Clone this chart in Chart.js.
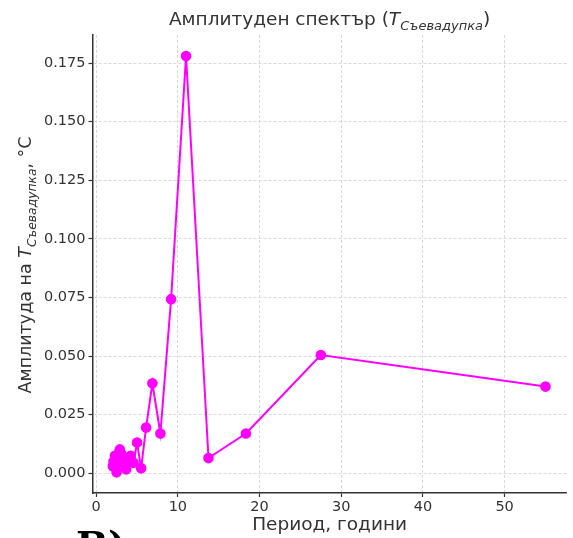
<!DOCTYPE html>
<html>
<head>
<meta charset="utf-8">
<script src="https://cdn.jsdelivr.net/npm/chart.js@4.4.1/dist/chart.umd.min.js"></script>
<style>
  html, body { margin: 0; padding: 0; background: #fff; }
  #wrap { width: 573px; height: 538px; }
</style>
</head>
<body>
<div id="wrap"><canvas id="spectrumChart" width="573" height="538"></canvas></div>
<script>
// period (years) = 55 / k, k = 1..27
const periods = [55, 27.5, 18.33, 13.75, 11, 9.17, 7.86, 6.88, 6.11, 5.5, 5.0, 4.58, 4.23, 3.93,
                 3.67, 3.44, 3.24, 3.06, 2.89, 2.75, 2.62, 2.5, 2.39, 2.29, 2.2, 2.12, 2.04];
const amplitudes = [0.037, 0.0505, 0.017, 0.0065, 0.178, 0.0743, 0.017, 0.0384, 0.0195, 0.0022,
                    0.0131, 0.0045, 0.0075, 0.0045, 0.0017, 0.0058, 0.0045, 0.0085, 0.0102, 0.0085,
                    0.0045, 0.0005, 0.0025, 0.0075, 0.0045, 0.005, 0.003];
const xTicks = [0, 10, 20, 30, 40, 50];
const yTicks = [0, 0.025, 0.05, 0.075, 0.1, 0.125, 0.15, 0.175];

const titleParts = [
    { text: "Амплитуден спектър (", style: "normal" },
    { text: "T", style: "italic" },
    { text: "Съевадупка", style: "sub" },
    { text: ")", style: "normal" }
];
const yLabelParts = [
    { text: "Амплитуда на ", style: "normal" },
    { text: "T", style: "italic" },
    { text: "Съевадупка", style: "sub" },
    { text: ", °C", style: "normal" }
];
const xLabel = "Период, години";
const panelLetter = "В)";

const textColor = "#333333";
const FONT = "'DejaVu Sans', sans-serif";

// draw a line of text with italic T and a smaller lowered subscript, centred at (0,0)
function drawRich(ctx, parts, size) {
    const fontFor = s => s === "normal" ? `${size}px ${FONT}`
        : s === "italic" ? `italic ${size}px ${FONT}`
        : `italic ${Math.round(size * 0.7 * 10) / 10}px ${FONT}`;
    let total = 0;
    parts.forEach(p => { ctx.font = fontFor(p.style); p.w = ctx.measureText(p.text).width; total += p.w; });
    let x = -total / 2;
    ctx.textBaseline = "alphabetic";
    ctx.textAlign = "left";
    parts.forEach(p => {
        ctx.font = fontFor(p.style);
        const dy = p.style === "sub" ? size * 0.25 : 0;
        ctx.fillText(p.text, x, size * 0.35 + dy);
        x += p.w;
    });
}

const labelsPlugin = {
    id: "labels",
    afterDraw(chart) {
        const ctx = chart.ctx;
        const area = chart.chartArea;
        ctx.save();
        ctx.fillStyle = textColor;

        // title
        ctx.save();
        ctx.translate((area.left + area.right) / 2, 19);
        drawRich(ctx, titleParts, 18.5);
        ctx.restore();

        // y axis label
        ctx.save();
        ctx.translate(25, (area.top + area.bottom) / 2 + 1);
        ctx.rotate(-Math.PI / 2);
        drawRich(ctx, yLabelParts, 17.5);
        ctx.restore();

        // x axis label
        ctx.font = `18.5px ${FONT}`;
        ctx.textAlign = "center";
        ctx.textBaseline = "middle";
        ctx.fillText(xLabel, (area.left + area.right) / 2, 525);

        // panel letter, cut off by the bottom edge
        ctx.fillStyle = "#000";
        ctx.font = "bold 38px 'DejaVu Serif', serif";
        ctx.textAlign = "left";
        ctx.textBaseline = "alphabetic";
        ctx.fillText(panelLetter, 76, 558);
        ctx.restore();
    }
};

const ctx = document.getElementById("spectrumChart").getContext("2d");

new Chart(ctx, {
    type: "line",
    data: {
        datasets: [{
            data: periods.map((p, i) => ({ x: p, y: amplitudes[i] })),
            borderColor: "#ff00ff",
            backgroundColor: "#ff00ff",
            borderWidth: 2,
            pointRadius: 4.3,
            pointHoverRadius: 4.3,
            tension: 0,
            fill: false
        }]
    },
    options: {
        responsive: false,
        animation: false,
        layout: { padding: { top: 35, right: 0, left: 0, bottom: 0 } },
        plugins: {
            legend: { display: false },
            tooltip: { enabled: false },
            title: { display: false }
        },
        scales: {
            x: {
                type: "linear",
                min: -0.45,
                max: 57.6,
                afterBuildTicks: axis => { axis.ticks = xTicks.map(v => ({ value: v })); },
                afterFit: axis => { axis.height = 45; },
                grid: {
                    color: "#cfcfcf",
                    lineWidth: 0.8,
                    tickColor: "#333333",
                    tickLength: 4,
                    tickWidth: 1.2,
                    tickBorderDash: []
                },
                border: { display: true, color: "#333333", width: 1.5, dash: [3, 2] },
                ticks: {
                    color: textColor,
                    padding: 2,
                    maxRotation: 0,
                    font: { family: "DejaVu Sans", size: 14.5 }
                }
            },
            y: {
                type: "linear",
                min: -0.0084,
                max: 0.187,
                afterBuildTicks: axis => { axis.ticks = yTicks.map(v => ({ value: v })); },
                afterFit: axis => { axis.width = 92.5; },
                grid: {
                    color: "#cfcfcf",
                    lineWidth: 0.8,
                    tickColor: "#333333",
                    tickLength: 4,
                    tickWidth: 1.2,
                    tickBorderDash: []
                },
                border: { display: true, color: "#333333", width: 1.5, dash: [3, 2] },
                ticks: {
                    color: textColor,
                    padding: 3,
                    callback: v => v.toFixed(3),
                    font: { family: "DejaVu Sans", size: 14.5 }
                }
            }
        }
    },
    plugins: [labelsPlugin]
});
</script>
</body>
</html>
